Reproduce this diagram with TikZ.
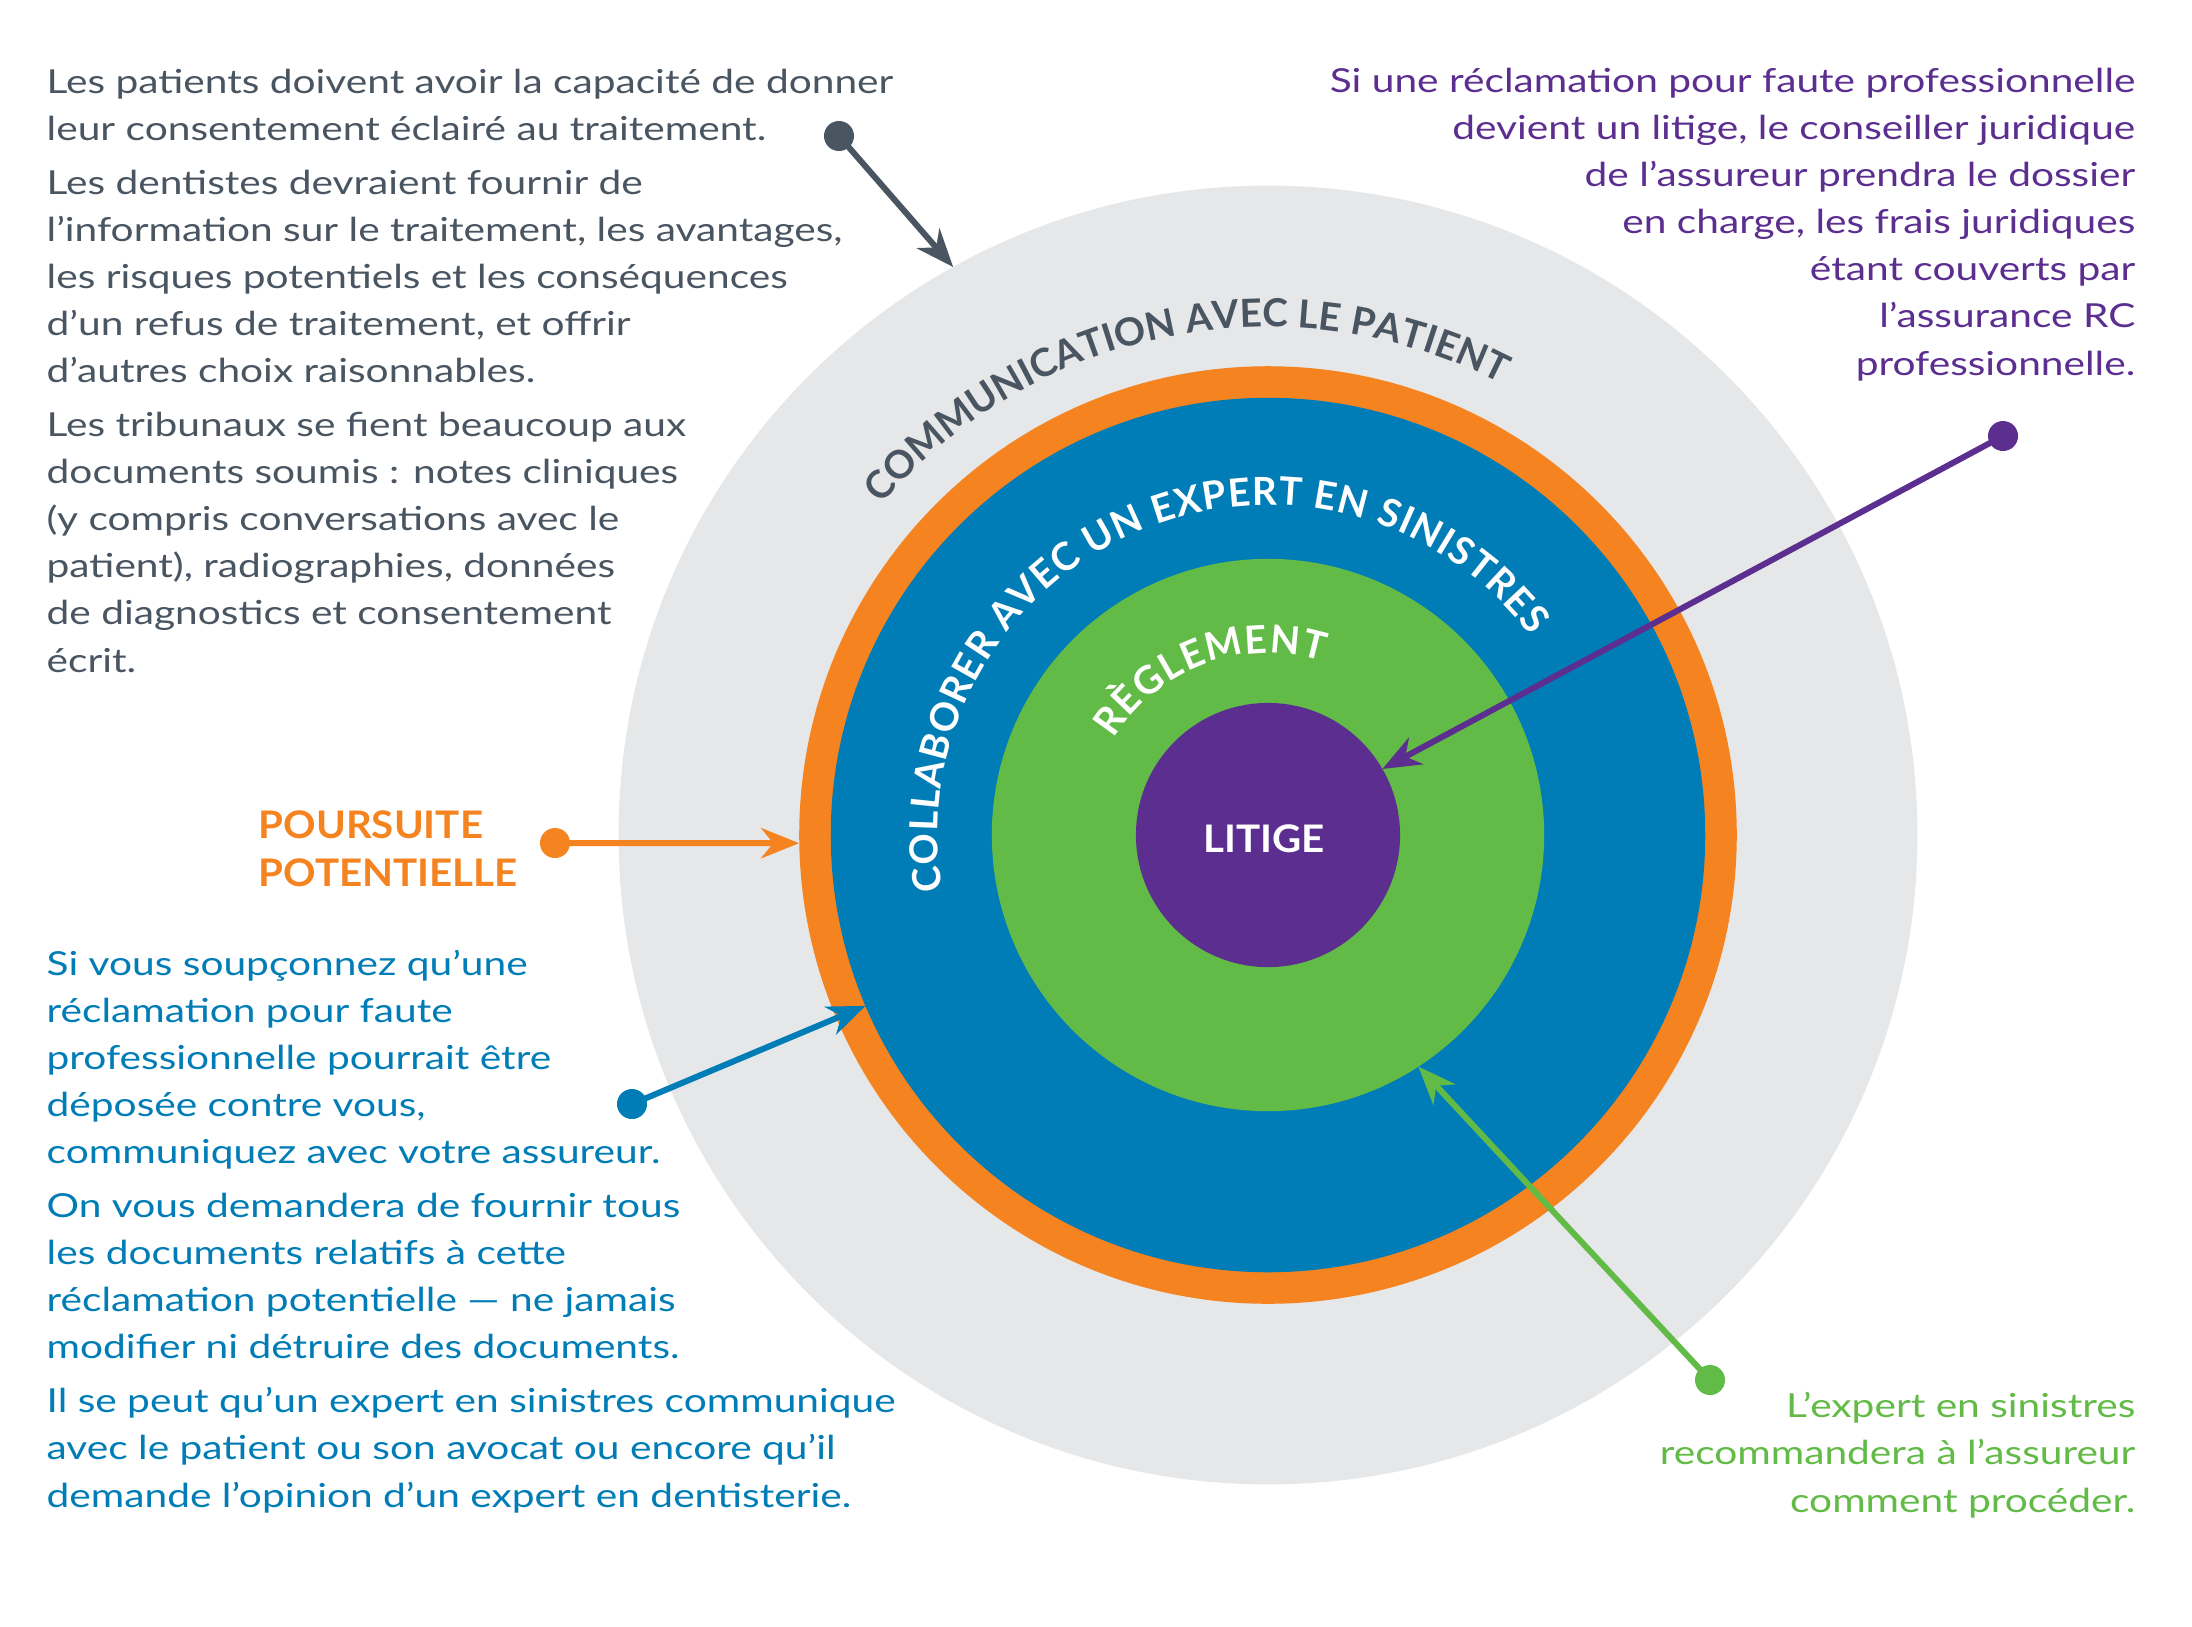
\documentclass[tikz,border=0pt]{standalone}
\usepackage{fontspec}
\setmainfont{Lato}[FakeStretch=1.23]
\newfontfamily\capsfont{Lato}[FakeStretch=1.06]
\newfontfamily\arcfont{Lato}
\usetikzlibrary{arrows.meta,decorations.text,positioning}
\definecolor{ringgray}{RGB}{230,231,232}
\definecolor{ringorange}{RGB}{244,131,32}
\definecolor{ringblue}{RGB}{0,124,182}
\definecolor{ringgreen}{RGB}{98,187,70}
\definecolor{ringpurple}{RGB}{91,46,144}
\definecolor{slate}{RGB}{74,85,98}
\tikzset{
    % Concentric discs of the target
    disc/.style={circle, draw=none, inner sep=0pt, outer sep=0pt},
    % Paragraphs beside the target (anchored on the last baseline)
    note/.style={inner sep=0pt, font=\fontsize{9.4}{13.38}\selectfont},
    leftnote/.style={note, anchor=base west, align=left},
    rightnote/.style={note, anchor=base east, align=right},
    % Bold capitals (centre and side labels)
    caps/.style={inner sep=0pt, font=\capsfont\bfseries\fontsize{10.8}{13.38}\selectfont},
    % Connector: dot at the text, arrow tip on a ring
    pin/.style={circle, inner sep=0pt, outer sep=0pt, minimum size=0.3cm},
    pointer/.style={-{Stealth[length=0.38cm, width=0.3cm, inset=0.12cm]}, line width=0.06cm},
}
\begin{document}
\begin{tikzpicture}[x=0.01cm, y=0.01cm]
  \fill[white] (-1268,-791) rectangle (924,835);
  \useasboundingbox (-1268,-791) rectangle (924,835);
  % target, outside in
  \node[disc, fill=ringgray, minimum size=12.98cm] (patient) at (0,0) {};
  \node[disc, fill=ringorange, minimum size=9.37cm] (lawsuit) at (0,0) {};
  \node[disc, fill=ringblue, minimum size=8.74cm] (expert) at (0,0) {};
  \node[disc, fill=ringgreen, minimum size=5.52cm] (settle) at (0,0) {};
  \node[disc, fill=ringpurple, minimum size=2.64cm] (litige) at (0,0) {};
  \node[caps, text=white] (litigelabel) at (-4,-4) {LITIGE};
  % lettering along the rings
  \path[decorate, decoration={text along path, text align={fit to path}, text color=slate,
        text={|\arcfont\bfseries\fontsize{11}{12}\selectfont|COMMUNICATION AVEC LE PATIENT{}}}]
        (139.5:508) arc[start angle=139.5, end angle=62.8, radius=508];
  \path[decorate, decoration={text along path, text align={fit to path}, text color=white,
        text={|\arcfont\bfseries\fontsize{11}{12}\selectfont|COLLABORER AVEC UN EXPERT EN SINISTRES{}}}]
        (189.7:330) arc[start angle=189.7, end angle=37, radius=330];
  \path[decorate, decoration={text along path, text align={fit to path}, text color=white,
        text={|\arcfont\bfseries\fontsize{11}{12}\selectfont|RÈGLEMENT{}}}]
        (148:182) arc[start angle=148, end angle=72, radius=182];
  % notes
  \node[leftnote, text=slate] (consent) at (-1222,163) {Les patients doivent avoir la capacité de donner\\
    leur consentement éclairé au traitement.\\[0.07cm]
    Les dentistes devraient fournir de\\
    l’information sur le traitement, les avantages,\\
    les risques potentiels et les conséquences\\
    d’un refus de traitement, et offrir\\
    d’autres choix raisonnables.\\[0.07cm]
    Les tribunaux se fient beaucoup aux\\
    documents soumis : notes cliniques\\
    (y compris conversations avec le\\
    patient), radiographies, données\\
    de diagnostics et consentement\\
    écrit.};
  \node[rightnote, text=ringpurple] (counsel) at (868,460) {Si une réclamation pour faute professionnelle\\
    devient un litige, le conseiller juridique\\
    de l’assureur prendra le dossier\\
    en charge, les frais juridiques\\
    étant couverts par\\
    l’assurance RC\\
    professionnelle.};
  \node[caps, anchor=base west, align=left, text=ringorange] (suit) at (-1010,-51) {POURSUITE\\POTENTIELLE};
  \node[leftnote, text=ringblue] (insurer) at (-1222,-672) {Si vous soupçonnez qu’une\\
    réclamation pour faute\\
    professionnelle pourrait être\\
    déposée contre vous,\\
    communiquez avec votre assureur.\\[0.07cm]
    On vous demandera de fournir tous\\
    les documents relatifs à cette\\
    réclamation potentielle — ne jamais\\
    modifier ni détruire des documents.\\[0.07cm]
    Il se peut qu’un expert en sinistres communique\\
    avec le patient ou son avocat ou encore qu’il\\
    demande l’opinion d’un expert en dentisterie.};
  \node[rightnote, text=ringgreen] (advice) at (868,-677) {L’expert en sinistres\\
    recommandera à l’assureur\\
    comment procéder.};
  % connectors
  \node[pin, fill=slate] (dotconsent) at (-429,699) {};
  \node[pin, fill=ringorange] (dotsuit) at (-713,-8) {};
  \node[pin, fill=ringblue] (dotinsurer) at (-636,-269) {};
  \node[pin, fill=ringpurple] (dotcounsel) at (735,399) {};
  \node[pin, fill=ringgreen] (dotadvice) at (442,-545) {};
  \draw[pointer, slate] (dotconsent.center) -- (patient.119.7);
  \draw[pointer, ringorange] (dotsuit.center) -- (lawsuit.181);
  \draw[pointer, ringblue] (dotinsurer.center) -- (expert.203.4);
  \draw[pointer, ringpurple] (dotcounsel.center) -- (litige.30.8);
  \draw[pointer, ringgreen] (dotadvice.center) -- (settle.303.8);
\end{tikzpicture}
\end{document}
